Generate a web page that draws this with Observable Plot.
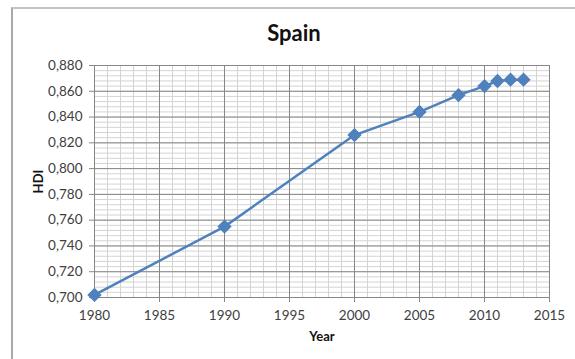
<!DOCTYPE html>
<html>
<head>
<meta charset="utf-8">
<script src="https://cdn.jsdelivr.net/npm/d3@7"></script>
<script src="https://cdn.jsdelivr.net/npm/@observablehq/plot@0.6"></script>
<style>
  html, body { margin: 0; padding: 0; background: #fff; }
  #wrap { position: relative; width: 575px; height: 359px; overflow: hidden; }
  #border { position: absolute; left: 11px; top: 7px; right: -2px; bottom: -2px;
            border-top: 2px solid #c4c4c4; border-left: 2px solid #a8a8a8; pointer-events: none; }
  #chart { position: absolute; left: 0; top: 0; }
</style>
</head>
<body>
<div id="wrap"><div id="chart"></div><div id="border"></div></div>
<script>
const title = "Spain";
const xLabel = "Year";
const yLabel = "HDI";
const years = [1980, 1990, 2000, 2005, 2008, 2010, 2011, 2012, 2013];
const hdi = [0.702, 0.755, 0.826, 0.844, 0.857, 0.864, 0.868, 0.869, 0.869];
const xTicks = [1980, 1985, 1990, 1995, 2000, 2005, 2010, 2015];
const yTicks = [0.70, 0.72, 0.74, 0.76, 0.78, 0.80, 0.82, 0.84, 0.86, 0.88];

const data = years.map((y, i) => ({year: y, hdi: hdi[i]}));
const xMinor = d3.range(1980, 2016, 1);
const yMinor = d3.range(0, 46).map(i => 0.70 + i * 0.004);
const fmtY = d => d3.format(".3f")(d).replace(".", ",");

const chart = Plot.plot({
  width: 575,
  height: 359,
  marginLeft: 94,
  marginRight: 26,
  marginTop: 65,
  marginBottom: 62,
  style: {fontFamily: "Lato, 'Open Sans', sans-serif", fontSize: "13px", color: "#404040", background: "transparent"},
  x: {domain: [1980, 2015]},
  y: {domain: [0.70, 0.88]},
  marks: [
    Plot.ruleX(xMinor, {stroke: "#d4d4d4", strokeWidth: 1}),
    Plot.ruleY(yMinor, {stroke: "#d4d4d4", strokeWidth: 1}),
    Plot.ruleX(xTicks, {stroke: "#878787", strokeWidth: 1}),
    Plot.ruleY(yTicks, {stroke: "#878787", strokeWidth: 1}),
    Plot.axisX({ticks: xTicks, tickFormat: d => String(d), tickSize: 5, tickPadding: 8, label: null, stroke: "#878787", fill: "#404040", fontSize: 13.5}),
    Plot.axisY({ticks: yTicks, tickFormat: fmtY, tickSize: 5, tickPadding: 7, label: null, stroke: "#878787", fill: "#404040", fontSize: 13.5}),
    Plot.line(data, {x: "year", y: "hdi", stroke: "#4f81bd", strokeWidth: 2.5}),
    Plot.dot(data, {x: "year", y: "hdi", symbol: "diamond2", r: 5.5, fill: "#4f81bd", stroke: "#4f81bd"}),
    Plot.text([title], {frameAnchor: "top", dx: -28, dy: -32, fontSize: 22, fontWeight: "bold", fill: "#111", lineAnchor: "middle"}),
    Plot.text([xLabel], {frameAnchor: "bottom", dy: 39, fontSize: 13, fontWeight: "bold", fill: "#111", lineAnchor: "middle"}),
    Plot.text([yLabel], {frameAnchor: "left", dx: -56, rotate: -90, fontSize: 13, fontWeight: "bold", fill: "#111", lineAnchor: "middle", textAnchor: "middle"})
  ]
});
document.getElementById("chart").appendChild(chart);
</script>
</body>
</html>
